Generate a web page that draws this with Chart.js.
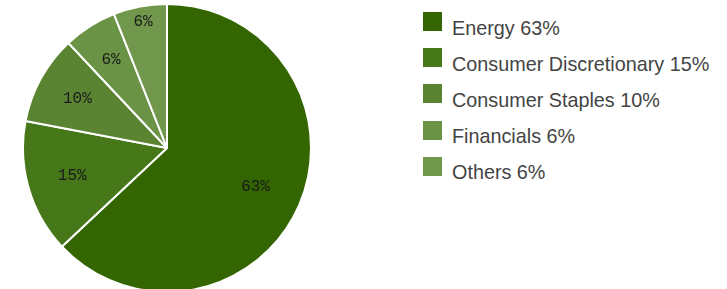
<!DOCTYPE html>
<html lang="en">
<head>
  <meta charset="UTF-8">
  <title>Sector Allocation</title>
  <style>
    body {
      margin: 0;
      background: #ffffff;
      width: 727px;
      height: 289px;
      overflow: hidden;
      position: relative;
      font-family: "Liberation Sans", Arial, sans-serif;
    }
    #pieBox {
      position: absolute;
      left: 22px;
      top: 3px;
      width: 290px;
      height: 290px;
    }
    #legend {
      position: absolute;
      left: 423px;
      top: 12px;
      margin: 0;
      padding: 0;
      list-style: none;
    }
    #legend li {
      position: relative;
      height: 36.2px;
      white-space: nowrap;
    }
    #legend li .box {
      position: absolute;
      left: 0;
      top: 0;
      width: 19px;
      height: 19px;
    }
    #legend li .text {
      position: absolute;
      left: 29px;
      top: 5.5px;
      font-size: 19.8px;
      line-height: 20px;
      color: #444444;
    }
  </style>
  <script src="https://cdn.jsdelivr.net/npm/chart.js"></script>
</head>
<body>
  <div id="pieBox"><canvas id="sectorChart"></canvas></div>
  <ul id="legend"></ul>

  <script>
    const sectors = ['Energy', 'Consumer Discretionary', 'Consumer Staples', 'Financials', 'Others'];
    const weights = [63, 15, 10, 6, 6];
    const sliceColors = ['#336600', '#467718', '#5a8432', '#6a9345', '#70974c'];

    // percentage text inside each slice, placed along the slice's middle angle
    const sliceLabels = {
      id: 'sliceLabels',
      afterDatasetsDraw(chart, args, opts) {
        const ctx = chart.ctx;
        const meta = chart.getDatasetMeta(0);
        ctx.save();
        ctx.font = opts.font;
        ctx.fillStyle = opts.color;
        ctx.textAlign = 'center';
        ctx.textBaseline = 'middle';
        meta.data.forEach((arc, i) => {
          const mid = (arc.startAngle + arc.endAngle) / 2;
          const r = arc.outerRadius * opts.radius[i];
          ctx.fillText(weights[i] + '%', arc.x + Math.cos(mid) * r, arc.y + Math.sin(mid) * r);
        });
        ctx.restore();
      }
    };

    new Chart(document.getElementById('sectorChart'), {
      type: 'pie',
      data: {
        labels: sectors,
        datasets: [{
          data: weights,
          backgroundColor: sliceColors,
          borderColor: '#ffffff',
          borderWidth: 2
        }]
      },
      options: {
        responsive: true,
        maintainAspectRatio: false,
        animation: false,
        layout: { padding: 0 },
        plugins: {
          legend: { display: false },
          tooltip: { enabled: false },
          sliceLabels: {
            font: '16px "Liberation Mono", monospace',
            color: '#1a1a1a',
            radius: [0.67, 0.685, 0.71, 0.725, 0.89]
          }
        }
      },
      plugins: [sliceLabels]
    });

    // legend on the right
    const legend = document.getElementById('legend');
    sectors.forEach((name, i) => {
      const li = document.createElement('li');
      li.innerHTML = `<span class="box" style="background:${sliceColors[i]}"></span><span class="text">${name} ${weights[i]}%</span>`;
      legend.appendChild(li);
    });
  </script>
</body>
</html>
